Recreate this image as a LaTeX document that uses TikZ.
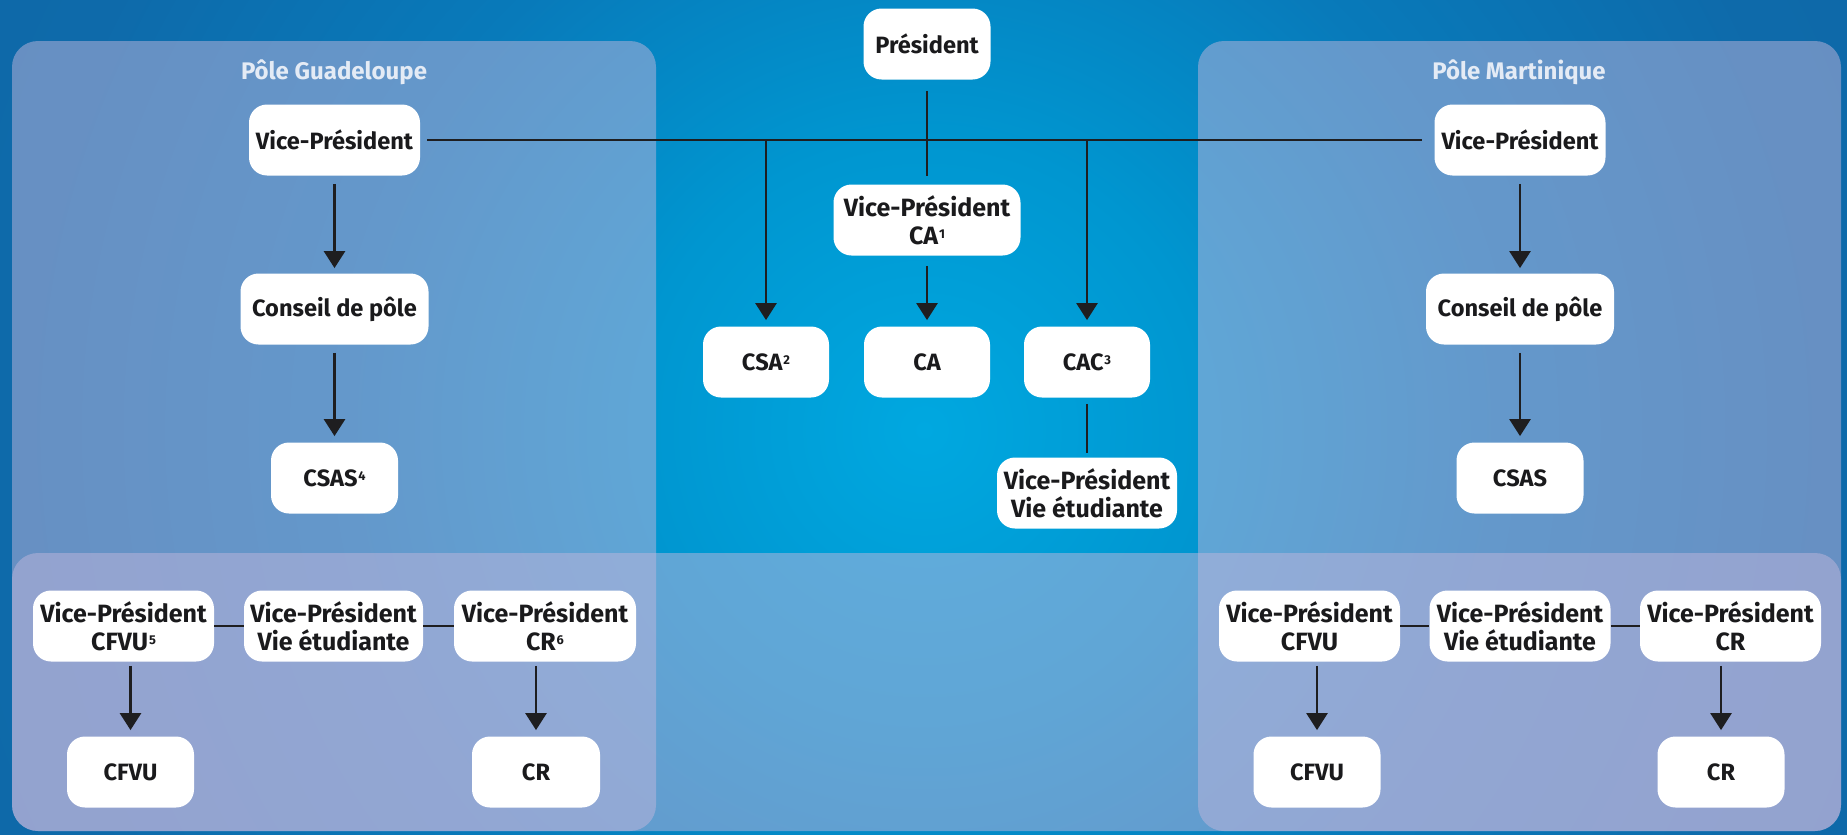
\documentclass[tikz,border=0pt]{standalone}
\usepackage{fontspec}
\setmainfont{Fira Sans}
\usetikzlibrary{arrows.meta}
\definecolor{bgin}{RGB}{0,168,224}
\definecolor{bgintwo}{RGB}{0,150,208}
\definecolor{bgmid}{RGB}{8,122,186}
\definecolor{bgmidtwo}{RGB}{14,106,170}
\definecolor{bgout}{RGB}{18,96,158}
\definecolor{tint}{RGB}{192,182,220}
\definecolor{txt}{RGB}{26,26,28}
\definecolor{lnc}{RGB}{30,30,32}
\definecolor{ttlc}{RGB}{228,235,245}
\pgfdeclareradialshading{bgshade}{\pgfpoint{0bp}{0bp}}{color(0bp)=(bgin); color(7bp)=(bgintwo); color(14bp)=(bgmid); color(22bp)=(bgmidtwo); color(50bp)=(bgout)}
\newcommand\supnum[1]{\kern0.4pt\raisebox{3pt}{\fontsize{6.4}{7}\selectfont #1}}
\tikzset{
  bx/.style={fill=white, rounded corners=9pt, minimum height=35.5pt, inner sep=0pt, align=center, text=txt, font=\bfseries\fontsize{11.8}{14}\selectfont},
  bxtwo/.style={bx, font=\bfseries\fontsize{12.5}{14}\selectfont},
  ttl/.style={text=ttlc, font=\bfseries\fontsize{12}{14}\selectfont, inner sep=0pt},
  panel/.style={fill=tint, fill opacity=0.5, rounded corners=13pt},
  ln/.style={line width=1.35pt, draw=lnc},
  arr/.style={ln, -{Triangle[width=10.5pt,length=8.5pt]}},
}
\begin{document}
\begin{tikzpicture}[x=0.5pt, y=-0.5pt]
\useasboundingbox (0,0) rectangle (1847,835);
\begin{scope}
\clip (0,0) rectangle (1847,835);
\shade[shading=bgshade] (924,430) circle (1040);
\end{scope}
% overlays
\fill[panel] (12,553) rectangle (1841,831);
\fill[panel] (12,41) rectangle (656,831);
\fill[panel] (1198,41) rectangle (1841,831);
% titles
\node[ttl] (tg) at (334,72) {Pôle Guadeloupe};
\node[ttl] (tm) at (1519,72) {Pôle Martinique};
% centre
\node[bx, minimum width=63.5pt] (pres) at (927,44) {Président};
\node[bxtwo, minimum width=93.5pt] (vpca) at (927,220) {Vice-Président\\CA\supnum{1}};
\node[bx, minimum width=63pt] (csa) at (766,362) {CSA\supnum{2}};
\node[bx, minimum width=63pt] (ca) at (927,362) {CA};
\node[bx, minimum width=63pt] (cac) at (1087,362) {CAC\supnum{3}};
\node[bxtwo, minimum width=90pt] (vpve) at (1087,493) {Vice-Président\\Vie étudiante};
% left pole
\node[bx, minimum width=85.5pt] (lvp) at (334.5,140) {Vice-Président};
\node[bx, minimum width=94pt] (lcp) at (334.5,309) {Conseil de pôle};
\node[bx, minimum width=63.5pt] (lcsas) at (334.5,478) {CSAS\supnum{4}};
\node[bxtwo, minimum width=90.5pt] (lvpcfvu) at (123.5,626) {Vice-Président\\CFVU\supnum{5}};
\node[bxtwo, minimum width=89.5pt] (lvpve) at (333.5,626) {Vice-Président\\Vie étudiante};
\node[bxtwo, minimum width=91pt] (lvpcr) at (545,626) {Vice-Président\\CR\supnum{6}};
\node[bx, minimum width=63.5pt] (lcfvu) at (130.5,772) {CFVU};
\node[bx, minimum width=64pt] (lcr) at (536,772) {CR};
% right pole
\node[bx, minimum width=85.5pt] (rvp) at (1520,140) {Vice-Président};
\node[bx, minimum width=94pt] (rcp) at (1520,309) {Conseil de pôle};
\node[bx, minimum width=63.5pt] (rcsas) at (1520,478) {CSAS};
\node[bxtwo, minimum width=90.5pt] (rvpcfvu) at (1309.5,626) {Vice-Président\\CFVU};
\node[bxtwo, minimum width=90.5pt] (rvpve) at (1520,626) {Vice-Président\\Vie étudiante};
\node[bxtwo, minimum width=90.5pt] (rvpcr) at (1730.5,626) {Vice-Président\\CR};
\node[bx, minimum width=63.5pt] (rcfvu) at (1317,772) {CFVU};
\node[bx, minimum width=63.5pt] (rcr) at (1721,772) {CR};
% connectors centre
\draw[ln, shorten <=5.5pt, shorten >=4pt] (pres) -- (vpca);
\draw[ln, shorten <=3.5pt, shorten >=6pt] (lvp) -- (rvp);
\draw[arr, shorten >=3pt] (csa.north |- lvp.east) -- (csa);
\draw[arr, shorten >=3pt] (cac.north |- lvp.east) -- (cac);
\draw[arr, shorten <=5pt, shorten >=3pt] (vpca) -- (ca);
\draw[ln, shorten <=3pt, shorten >=2pt] (cac) -- (vpve);
% left
\draw[arr, shorten <=4pt, shorten >=2.5pt] (lvp) -- (lcp);
\draw[arr, shorten <=4pt, shorten >=3pt] (lcp) -- (lcsas);
\draw[ln] (lvpcfvu) -- (lvpve);
\draw[ln] (lvpve) -- (lvpcr);
\draw[arr, shorten <=2pt, shorten >=3pt] (lvpcfvu.south -| lcfvu.north) -- (lcfvu.north);
\draw[arr, shorten <=2pt, shorten >=3pt] (lvpcr.south -| lcr.north) -- (lcr.north);
% right
\draw[arr, shorten <=4pt, shorten >=2.5pt] (rvp) -- (rcp);
\draw[arr, shorten <=4pt, shorten >=3pt] (rcp) -- (rcsas);
\draw[ln] (rvpcfvu) -- (rvpve);
\draw[ln] (rvpve) -- (rvpcr);
\draw[arr, shorten <=2pt, shorten >=3pt] (rvpcfvu.south -| rcfvu.north) -- (rcfvu.north);
\draw[arr, shorten <=2pt, shorten >=3pt] (rvpcr.south -| rcr.north) -- (rcr.north);
\end{tikzpicture}
\end{document}
